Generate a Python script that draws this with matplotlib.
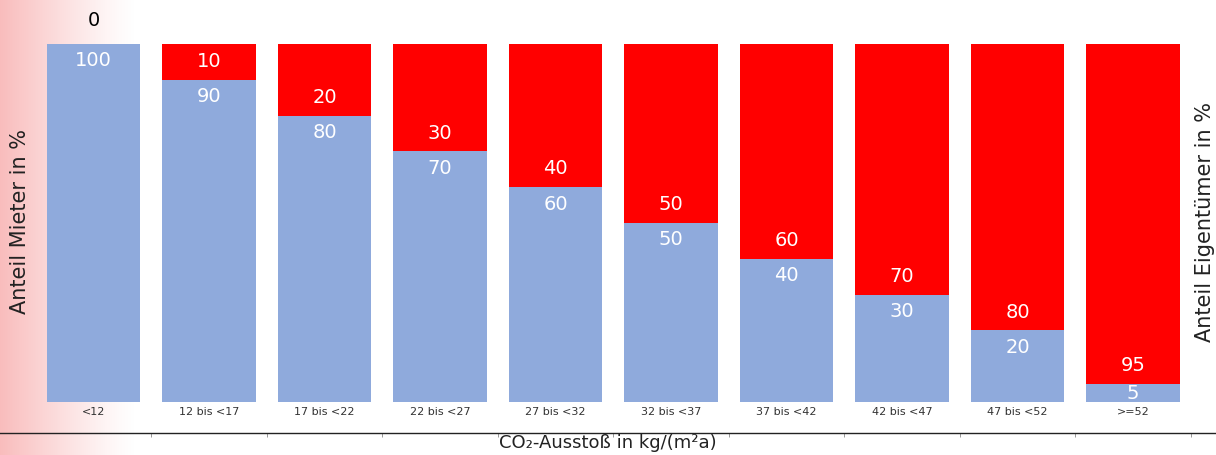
import numpy as np
import matplotlib
matplotlib.use('Agg')
import matplotlib.pyplot as plt

# Data
categories = ['<12', '12 bis <17', '17 bis <22', '22 bis <27', '27 bis <32',
              '32 bis <37', '37 bis <42', '42 bis <47', '47 bis <52', '>=52']
mieter = [100, 90, 80, 70, 60, 50, 40, 30, 20, 5]
eigentuemer = [0, 10, 20, 30, 40, 50, 60, 70, 80, 95]

blue = '#8faadc'
red = '#ff0000'

fig = plt.figure(figsize=(12.16, 4.55), dpi=100)

# pink gradient on the left edge
bg = fig.add_axes([0, 0, 1, 1], zorder=-1)
w = 1216
grad = np.zeros((1, w, 4))
grad[..., 0] = 0.98
grad[..., 1] = 0.74
grad[..., 2] = 0.74
fade = np.clip(1 - np.arange(w) / 135.0, 0, 1) ** 1.2
grad[0, :, 3] = fade
bg.imshow(grad, aspect='auto', extent=[0, 1, 0, 1])
bg.set_xlim(0, 1)
bg.set_ylim(0, 1)
bg.axis('off')

ax = fig.add_axes([0, 22 / 455, 1, 389 / 455])
ax.set_facecolor('none')
x = np.arange(len(categories))
ax.bar(x, mieter, width=0.81, color=blue, zorder=2)
ax.bar(x, eigentuemer, width=0.81, bottom=mieter, color=red, zorder=2)

ax.set_xlim(-0.8095, 9.719)
ax.set_ylim(-8.66, 100)

off = 4.7
for i in x:
    b = mieter[i]
    if eigentuemer[i] > 0:
        ax.text(i, b + off + 0.4, str(eigentuemer[i]), color='white', fontsize=14,
                ha='center', va='center', zorder=3)
    else:
        ax.text(i, b + 6.6, str(eigentuemer[i]), color='black', fontsize=14,
                ha='center', va='center', clip_on=False, zorder=3)
    if b < 2 * off:
        ax.text(i, b / 2, str(b), color='white', fontsize=14,
                ha='center', va='center', zorder=3)
    else:
        ax.text(i, b - off, str(b), color='white', fontsize=14,
                ha='center', va='center', zorder=3)
    ax.text(i, -2.8, categories[i], color='#333333', fontsize=8,
            ha='center', va='center')

for s in ['top', 'left', 'right']:
    ax.spines[s].set_visible(False)
ax.spines['bottom'].set_color('#222222')
ax.spines['bottom'].set_linewidth(1.0)
ax.set_yticks([])
ax.set_xticks(x + 0.5)
ax.set_xticklabels([])
ax.tick_params(axis='x', length=3, width=0.6, color='#888888', direction='out')

fig.text(20 / 1216, 1 - 222 / 455, 'Anteil Mieter in %', rotation=90,
         ha='center', va='center', fontsize=15, color='#222222')
fig.text(1205 / 1216, 1 - 222 / 455, 'Anteil Eigentümer in %', rotation=90,
         ha='center', va='center', fontsize=15, color='#222222')
fig.text(608 / 1216, 1 - 443 / 455, 'CO₂-Ausstoß in kg/(m²a)',
         ha='center', va='center', fontsize=13, color='#222222')

fig.savefig('out.png', dpi=100)
